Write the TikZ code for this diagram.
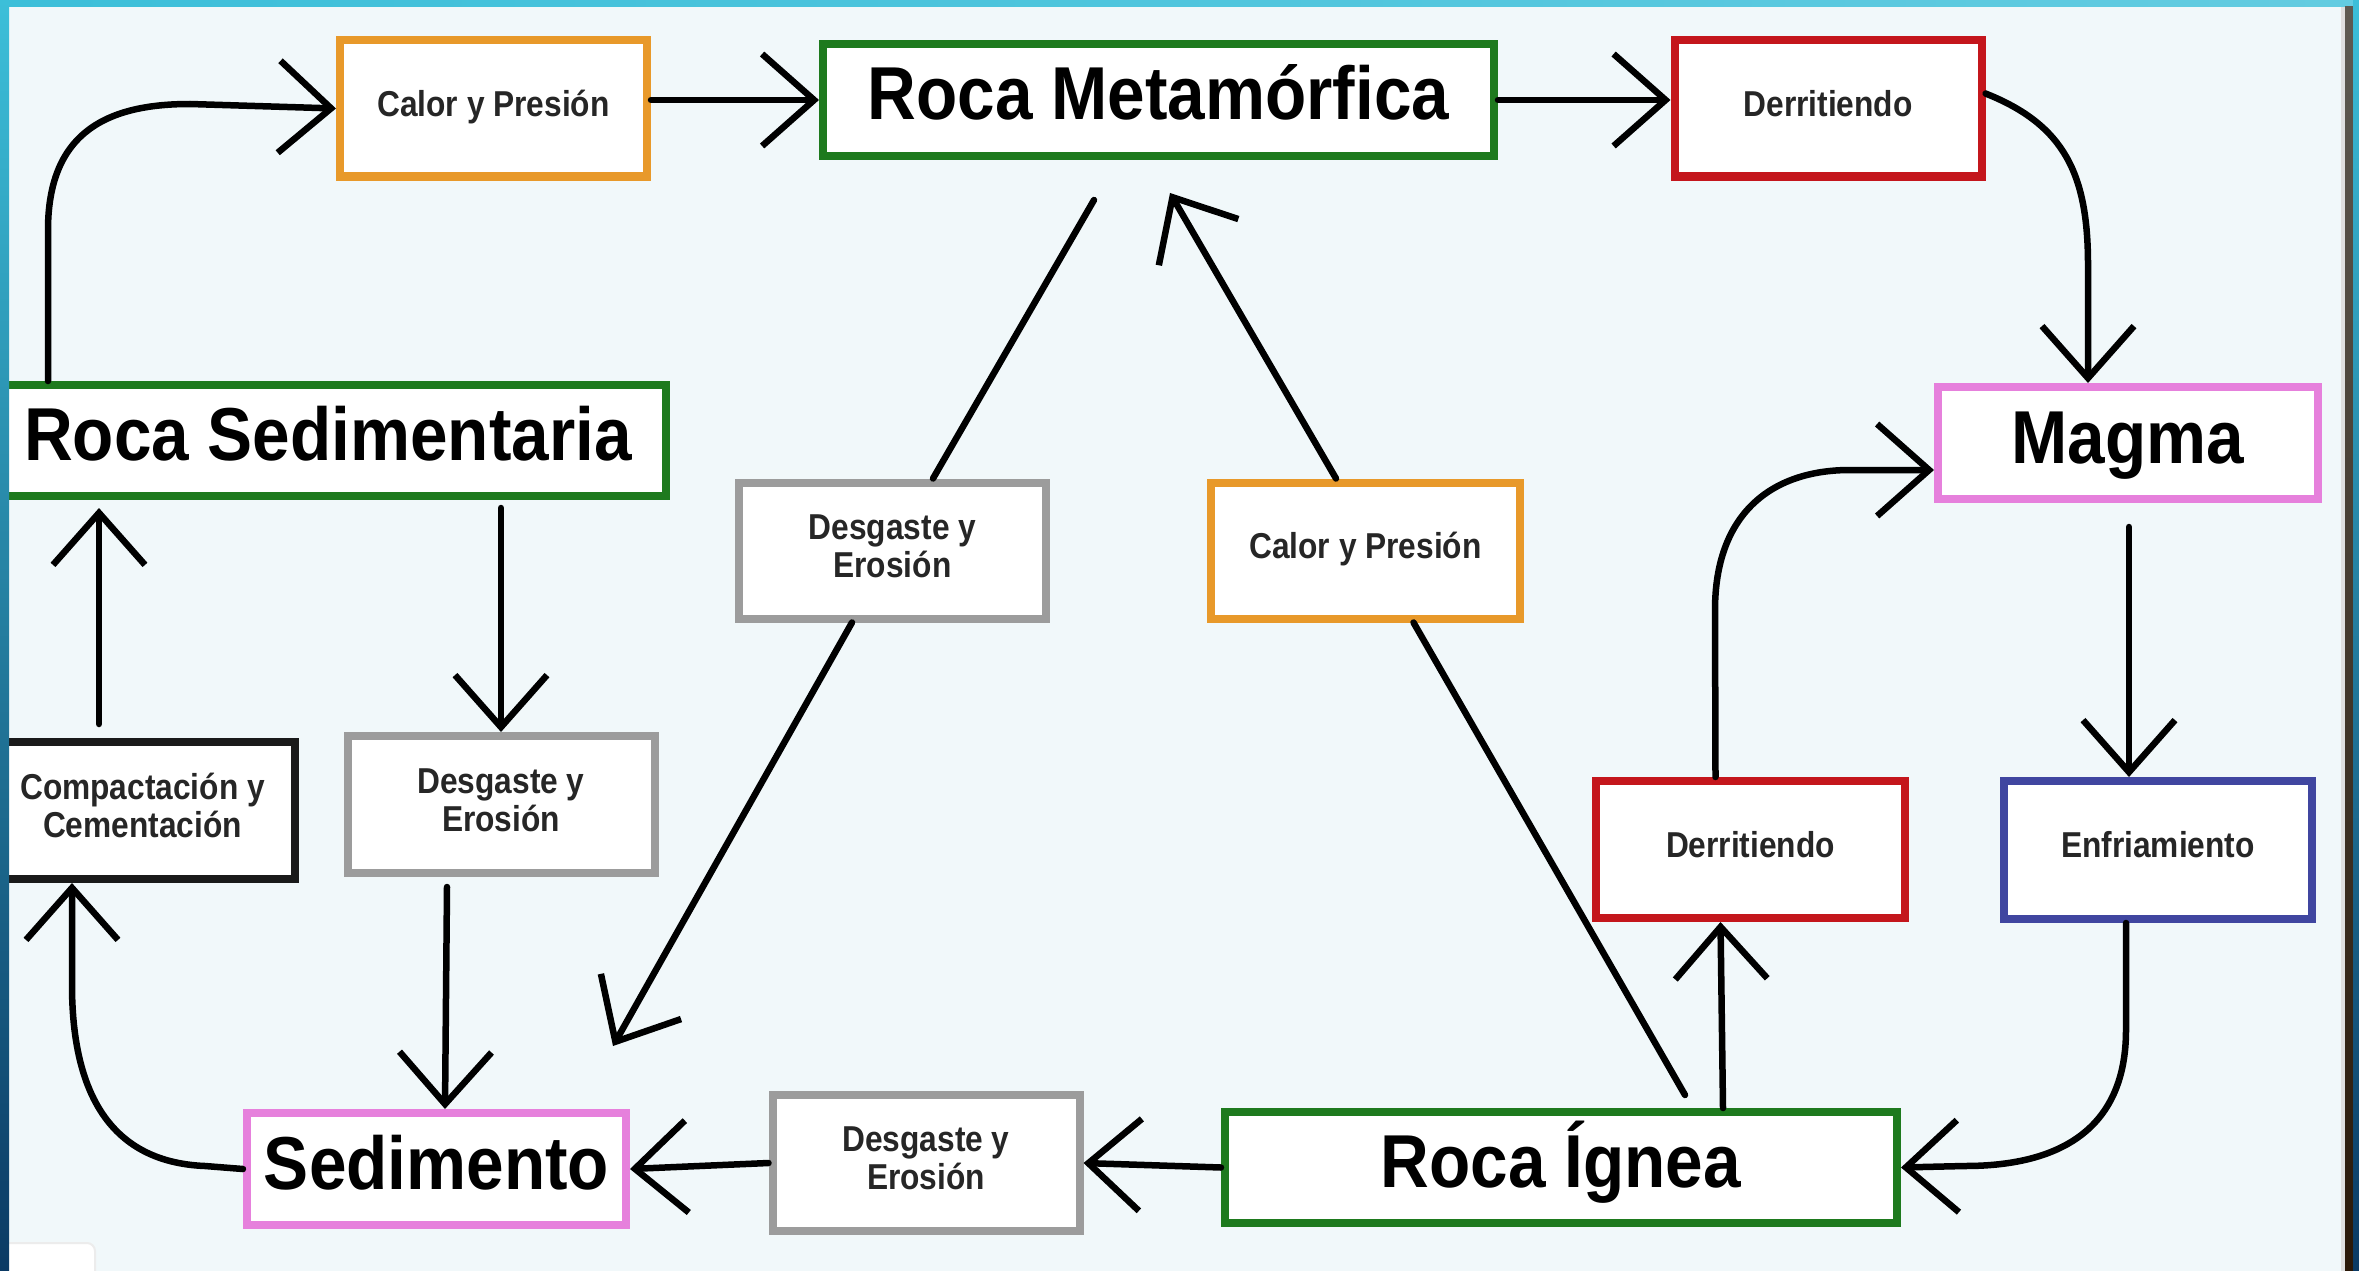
\documentclass[tikz,border=0pt]{standalone}
\usepackage{fontspec}
\usepackage{graphicx}
\usetikzlibrary{arrows.meta,calc}
\newfontfamily\labfont{Liberation Sans}
\definecolor{panelbg}{HTML}{F1F8FA}
\definecolor{grn}{HTML}{1E7A1E}
\definecolor{org}{HTML}{E8992A}
\definecolor{rd}{HTML}{C4161C}
\definecolor{pnk}{HTML}{E680DC}
\definecolor{gry}{HTML}{9C9C9C}
\definecolor{blu}{HTML}{4046A0}
\definecolor{blk}{HTML}{1A1A1A}
\definecolor{smtext}{HTML}{262626}
\definecolor{bandtop}{HTML}{3CBFD9}
\definecolor{bandbot}{HTML}{0B3A64}
\newcommand\bigtxt[1]{\scalebox{0.9}[1]{#1}}
\newcommand\smtxt[1]{\scalebox{0.88}[1]{\begin{tabular}{@{}c@{}}#1\end{tabular}}}
\tikzset{
  box/.style={draw, fill=white, line width=8pt, inner sep=0pt, anchor=center},
  bigbox/.style={box, minimum height=112pt, text height=54pt, text depth=14pt,
    font=\labfont\bfseries\fontsize{75pt}{80pt}\selectfont, text=black},
  smbox/.style={box, minimum width=307pt, minimum height=136pt,
    font=\labfont\bfseries\fontsize{36pt}{38pt}\selectfont, text=smtext},
  conn/.style={draw=black, line width=6.5pt, line cap=round, line join=round},
  arr/.style={conn, -{Straight Barb[length=52pt,width=92pt]}},
}
\begin{document}
\begin{tikzpicture}[x=1pt,y=-1pt]
\useasboundingbox (0,0) rectangle (2359,1271);
\fill[panelbg] (0,0) rectangle (2359,1271);
\filldraw[fill=white, draw=gray!15, line width=2pt, rounded corners=8pt] (0,1243) rectangle (95,1290);

% nodes
\node[smbox, draw=org] (cp1) at (493.5,108.5) {\smtxt{Calor y Presión}};
\node[bigbox, draw=grn, minimum width=671pt] (meta) at (1158.5,100) {\bigtxt{Roca Metamórfica}};
\node[smbox, draw=rd] (der1) at (1828,108.5) {\smtxt{Derritiendo}};
\node[bigbox, draw=pnk, minimum width=380pt] (magma) at (2128,443) {\bigtxt{Magma}};
\node[bigbox, draw=grn, minimum width=676pt, minimum height=111pt] (sedr) at (328,440.5) {\bigtxt{Roca Sedimentaria}};
\node[smbox, draw=gry] (de2) at (892.5,550.5) {\smtxt{Desgaste y\\Erosión}};
\node[smbox, draw=org, minimum width=309pt] (cp2) at (1365.5,550.5) {\smtxt{Calor y Presión}};
\node[smbox, draw=blk, minimum width=305pt, minimum height=137pt] (comp) at (142.5,810.5) {\smtxt{Compactación y\\Cementación}};
\node[smbox, draw=gry, minimum height=137pt] (de1) at (501,804.5) {\smtxt{Desgaste y\\Erosión}};
\node[smbox, draw=rd, minimum width=309pt, minimum height=137pt] (der2) at (1750.5,849.5) {\smtxt{Derritiendo}};
\node[smbox, draw=blu, minimum width=308pt, minimum height=138pt] (enf) at (2158,850) {\smtxt{Enfriamiento}};
\node[bigbox, draw=pnk, minimum width=379pt] (sed) at (436.5,1169) {\bigtxt{Sedimento}};
\node[smbox, draw=gry] (de3) at (926,1163) {\smtxt{Desgaste y\\Erosión}};
\node[bigbox, draw=grn, minimum width=672pt, minimum height=111pt] (ign) at (1561,1167.5) {\bigtxt{Roca Ígnea}};

% connectors
\draw[arr] ([xshift=-280pt]sedr.north) -- (48,230) .. controls (48,130) and (110,104) .. (190,104) -- (cp1.west);
\draw[arr] (cp1.east |- meta.west) -- (meta.west);
\draw[arr] (meta.east) -- (meta.east -| der1.west);
\draw[arr] ([yshift=15pt]der1.east) .. controls (2065,125) and (2088,175) .. (2088,265) -- ([xshift=-40pt]magma.north);
\draw[arr] ([xshift=1pt,yshift=-24pt]magma.south) -- ([xshift=-29pt]enf.north);
\draw[arr] ([xshift=-32pt]enf.south) -- (2126,1030) .. controls (2126,1125) and (2065,1166) .. (1965,1166) -- (ign.east);
\draw[arr] ([xshift=162pt]ign.north) -- ([xshift=-30pt]der2.south);
\draw[arr] ([xshift=-35pt]der2.north) -- (1715,610) .. controls (1715,515) and (1770,470) .. (1850,470) -- ([yshift=-27pt]magma.west);
\draw[conn] ([xshift=124pt,yshift=13pt]ign.north) -- ([xshift=48pt]cp2.south);
\draw[arr] ([xshift=-29.5pt]cp2.north) -- ([xshift=11.5pt,yshift=-33pt]meta.south);
\draw[conn] ([xshift=-64.5pt,yshift=-40pt]meta.south) -- ([xshift=40.5pt]de2.north);
\draw[arr] ([xshift=-40.5pt]de2.south) -- ([xshift=-17pt,yshift=63pt]sed.north east);
\draw[arr] ([xshift=173pt,yshift=-8pt]sedr.south) -- (de1.north);
\draw[arr] ([xshift=-54pt,yshift=-10pt]de1.south) -- ([xshift=8.5pt]sed.north);
\draw[arr] (sed.west) -- (205,1166) .. controls (105,1162) and (72,1085) .. (72,985) -- ([xshift=-70.5pt]comp.south);
\draw[arr] ([xshift=-43.5pt,yshift=14pt]comp.north) -- ([xshift=-229pt,yshift=-8pt]sedr.south);
\draw[arr] (de3.west) -- (sed.east);
\draw[arr] (ign.west) -- (de3.east);

% frame
\shade[left color=bandtop, right color=bandtop!80!white] (0,0) rectangle (2359,7);
\shade[top color=bandtop, bottom color=bandbot] (0,0) rectangle (9,1271);
\fill[gray!25] (2341,7) rectangle (2345,1271);
\shade[top color={rgb,255:red,94;green,90;blue,82}, middle color={rgb,255:red,184;green,138;blue,80}, bottom color={rgb,255:red,42;green,24;blue,8}] (2345,7) rectangle (2353,1271);
\shade[top color=bandtop, bottom color=bandbot] (2353,0) rectangle (2359,1271);
\end{tikzpicture}
\end{document}
